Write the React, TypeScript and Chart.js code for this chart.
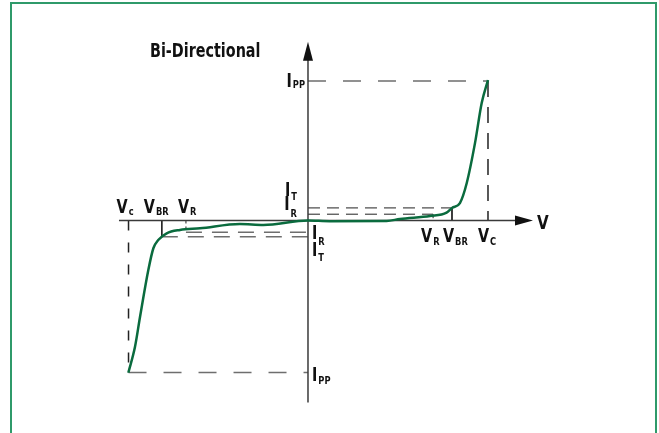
import React, { useEffect, useRef } from "react";
import { Chart, registerables } from "chart.js";

Chart.register(...registerables);

// ---- data (V in arbitrary volts, I in arbitrary amps) ----
const curveV = [-9.98, -9.61, -9.33, -8.87, -8.59, -8.32, -7.85, -7.11, -6.0, -3.78, -2.48, 0, 1.2, 4.37, 5.11, 6.78, 7.7, 8.0, 8.44, 8.82, 9.28, 9.65, 10];
const curveI = [-10.91, -9.05, -6.9, -3.55, -1.99, -1.4, -0.92, -0.68, -0.56, -0.25, -0.32, 0, -0.05, -0.04, 0.11, 0.32, 0.56, 0.9, 1.25, 2.69, 5.56, 8.42, 10.07];

// key voltages [negative side, positive side]
const VC = [-9.97, 10];
const VBR = [-8.12, 8.0];
const VR = [-6.78, 6.95];
// key currents [negative side, positive side]
const IPP = [-10.9, 10.0];
const IT = [-1.16, 0.9];
const IR = [-0.84, 0.45];

const X_AXIS = [-10.5, 12.5];
const Y_AXIS = [-13.05, 12.8];
const X_RANGE = [-17.11, 19.5];
const Y_RANGE = [-15.23, 15.8];

const TITLE = "Bi-Directional";

const FONT = '"Liberation Sans Narrow", "DejaVu Sans Condensed", "Liberation Sans", sans-serif';
const GREEN = "#0a6b3e";
const SX = 0.84; // horizontal text compression (condensed face)

function seg(x1: number, y1: number, x2: number, y2: number, color: string, width: number, dash: number[]) {
  return {
    data: [{ x: x1, y: y1 }, { x: x2, y: y2 }],
    showLine: true,
    borderColor: color,
    borderWidth: width,
    borderDash: dash,
    pointRadius: 0,
    fill: false,
  };
}

const labelPlugin = {
  id: "labels",
  afterDatasetsDraw(chart: any) {
    const ctx = chart.ctx;
    const xs = chart.scales.x;
    const ys = chart.scales.y;
    const px = (v: number) => xs.getPixelForValue(v);
    const py = (v: number) => ys.getPixelForValue(v);
    ctx.save();
    ctx.fillStyle = "#111";
    // arrows
    const ax = px(0), ay = py(Y_AXIS[1]);
    ctx.beginPath();
    ctx.moveTo(ax, ay);
    ctx.lineTo(ax - 5, ay + 19);
    ctx.lineTo(ax + 5, ay + 19);
    ctx.closePath();
    ctx.fill();
    const bx = px(X_AXIS[1]), by = py(0);
    ctx.beginPath();
    ctx.moveTo(bx, by);
    ctx.lineTo(bx - 18, by - 5);
    ctx.lineTo(bx - 18, by + 5);
    ctx.closePath();
    ctx.fill();

    const MAIN = `bold 19px ${FONT}`;
    const SUB = `bold 11px ${FONT}`;
    const text = (s: string, font: string, x: number, y: number) => {
      ctx.save();
      ctx.font = font;
      ctx.textBaseline = "alphabetic";
      ctx.textAlign = "left";
      ctx.translate(x, y);
      ctx.scale(SX, 1);
      ctx.fillText(s, 0, 0);
      const w = ctx.measureText(s).width * SX;
      ctx.restore();
      return w;
    };
    const measure = (s: string, font: string) => {
      ctx.font = font;
      return ctx.measureText(s).width * SX;
    };
    const draw = (x: number, y: number, main: string, sub: string, subDy: number, rightAlign = false) => {
      let sx = x;
      if (rightAlign) sx = x - (measure(main, MAIN) + 1 + measure(sub, SUB));
      const w = text(main, MAIN, sx, y);
      text(sub, SUB, sx + w + 1, y + subDy);
    };
    const x0 = px(0), y0 = py(0);
    // current labels
    draw(x0 - 3, py(IPP[1]) + 6, "I", "PP", 1, true);
    draw(x0 - 11, py(IT[1]) - 12, "I", "T", 4, true);
    draw(x0 - 11, py(IR[1]) - 4, "I", "R", 7, true);
    draw(x0 + 4, py(IR[0]) + 7, "I", "R", 6);
    draw(x0 + 4, py(IT[0]) + 19, "I", "T", 5);
    draw(x0 + 4, py(IPP[0]) + 8, "I", "PP", 3);
    // voltage labels (negative side)
    draw(px(VC[0]) - 12, y0 - 7.5, "V", "c", 2);
    draw(px(VBR[0]) - 18, y0 - 7.5, "V", "BR", 2);
    draw(px(VR[0]) - 8, y0 - 7.5, "V", "R", 2);
    // voltage labels (positive side)
    draw(px(VR[1]) - 12, y0 + 22, "V", "R", 3);
    draw(px(VBR[1]) - 9, y0 + 22, "V", "BR", 3);
    draw(px(VC[1]) - 10, y0 + 22, "V", "C", 3);
    text("V", `bold 20px ${FONT}`, bx + 4, y0 + 8.5);
    // title
    text(TITLE, `bold 19px ${FONT}`, 150, 57);
    ctx.restore();
  },
};

export default function App() {
  const ref = useRef<HTMLCanvasElement>(null);
  useEffect(() => {
    if (!ref.current) return;
    const curve = curveV.map((v, i) => ({ x: v, y: curveI[i] }));
    const AX = "#3a3a3a";
    const GRAY = "#6e6e6e";
    const BLK = "#222";
    const datasets: any[] = [
      {
        data: curve,
        showLine: true,
        borderColor: GREEN,
        borderWidth: 2.5,
        pointRadius: 0,
        cubicInterpolationMode: "monotone",
        fill: false,
      },
      seg(X_AXIS[0], 0, X_AXIS[1] - 0.5, 0, AX, 1.5, []),
      seg(0, Y_AXIS[0], 0, Y_AXIS[1] - 0.5, AX, 1.5, []),
      // positive side
      seg(0, IPP[1], VC[1], IPP[1], GRAY, 1.5, [18, 17]),
      seg(VC[1], IPP[1], VC[1], 0, BLK, 1.5, [16, 10]),
      seg(0, IT[1], VBR[1], IT[1], BLK, 1, [12, 7]),
      seg(0, IR[1], VR[1], IR[1], BLK, 1, [12, 7]),
      seg(VBR[1], IT[1], VBR[1], 0, BLK, 1, []),
      seg(VR[1], IR[1], VR[1], 0, BLK, 1, [4, 2]),
      // negative side
      seg(VC[0], 0, VC[0], IPP[0], BLK, 1.5, [10, 12]),
      seg(VC[0], IPP[0], 0, IPP[0], GRAY, 1.5, [18, 17]),
      seg(VBR[0], IT[0], 0, IT[0], GRAY, 1.5, [16, 10]),
      seg(VR[0], IR[0], 0, IR[0], GRAY, 1.5, [16, 10]),
      seg(VBR[0], 0, VBR[0], IT[0], BLK, 1, []),
      seg(VR[0], 0, VR[0], IR[0], BLK, 1, [3, 3]),
    ];
    const chart = new Chart(ref.current, {
      type: "scatter",
      data: { datasets },
      options: {
        animation: false,
        responsive: false,
        devicePixelRatio: 1,
        layout: { padding: 0 },
        plugins: { legend: { display: false }, tooltip: { enabled: false }, title: { display: false } },
        scales: {
          x: { type: "linear", min: X_RANGE[0], max: X_RANGE[1], display: false },
          y: { type: "linear", min: Y_RANGE[0], max: Y_RANGE[1], display: false },
        },
      },
      plugins: [labelPlugin],
    });
    return () => chart.destroy();
  }, []);
  return (
    <div style={{ position: "fixed", left: 0, top: 0, width: 659, height: 433, background: "#fff", overflow: "hidden" }}>
      <canvas ref={ref} width={659} height={433} style={{ position: "absolute", left: 0, top: 0 }} />
      <div
        style={{
          position: "absolute",
          left: 10,
          top: 2,
          right: 2,
          bottom: -20,
          border: "2px solid #2f9a6a",
          pointerEvents: "none",
        }}
      />
    </div>
  );
}
